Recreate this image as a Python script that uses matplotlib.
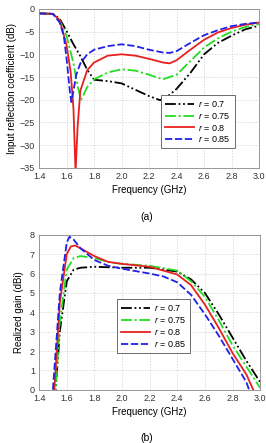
import matplotlib
matplotlib.use('Agg')
import matplotlib.pyplot as plt

plt.rcParams['font.family'] = ['Liberation Sans', 'DejaVu Sans']
plt.rcParams['mathtext.fontset'] = 'custom'
plt.rcParams['mathtext.it'] = 'Liberation Sans:italic'
plt.rcParams['mathtext.rm'] = 'Liberation Sans'

labels = ['$r$ = 0.7', '$r$ = 0.75', '$r$ = 0.8', '$r$ = 0.85']
colors = ['black', '#22dd22', '#e82020', '#2020e8']
styles = [(0, (6, 1.5, 1, 1.5, 1, 1.5)), (0, (6, 1.5, 1.2, 1.5)), '-', (0, (4, 1.5))]

# (a) input reflection coefficient, dB
s11_x = [
    [1.4, 1.5, 1.55, 1.6, 1.65, 1.7, 1.75, 1.8, 1.9, 2.0, 2.1, 2.2, 2.28, 2.35, 2.4, 2.5, 2.6, 2.7, 2.8, 2.9, 3.0],
    [1.4, 1.5, 1.55, 1.6, 1.65, 1.68, 1.705, 1.73, 1.75, 1.8, 1.9, 2.0, 2.1, 2.2, 2.3, 2.4, 2.5, 2.6, 2.7, 2.8, 2.9, 3.0],
    [1.4, 1.5, 1.55, 1.6, 1.63, 1.65, 1.665, 1.68, 1.7, 1.75, 1.8, 1.9, 2.0, 2.1, 2.2, 2.3, 2.35, 2.4, 2.5, 2.6, 2.7, 2.8, 2.9, 3.0],
    [1.4, 1.5, 1.55, 1.58, 1.6, 1.625, 1.635, 1.65, 1.67, 1.7, 1.75, 1.8, 1.9, 2.0, 2.1, 2.2, 2.3, 2.35, 2.4, 2.5, 2.6, 2.7, 2.8, 2.9, 3.0],
]
s11_y = [
    [-1, -1.1, -2.2, -4.9, -7.8, -10.4, -13.4, -15.6, -15.9, -16.4, -17.8, -19.2, -20.1, -18.9, -17.6, -14.1, -10, -7.5, -5.9, -4.5, -3.7],
    [-1, -1.1, -2.5, -6, -12, -17, -20, -18.5, -17.2, -15.5, -14, -13.3, -13.6, -14.5, -15.5, -14.5, -11.5, -8.5, -6.5, -5, -4, -3.3],
    [-1, -1.1, -2.5, -8, -14, -22, -36, -26, -18, -13.5, -11.8, -10.3, -10, -10.3, -11, -11.8, -12, -11.3, -9, -6.8, -5.2, -4.2, -3.5, -3],
    [-1, -1.1, -3, -6, -11, -18.5, -20.5, -18, -14.5, -12, -10, -9, -8.2, -7.8, -8.2, -9, -9.6, -9.7, -9.3, -7.5, -5.8, -4.7, -3.8, -3.3, -3],
]

# (b) realized gain, dBi
gain_x = [
    [1.51, 1.52, 1.55, 1.6, 1.65, 1.7, 1.8, 2.0, 2.2, 2.4, 2.5, 2.6, 2.7, 2.8, 2.9, 3.0],
    [1.51, 1.52, 1.55, 1.6, 1.65, 1.7, 1.8, 1.9, 2.0, 2.2, 2.4, 2.5, 2.6, 2.7, 2.8, 2.9, 3.0],
    [1.5, 1.51, 1.55, 1.6, 1.63, 1.66, 1.7, 1.8, 1.9, 2.0, 2.2, 2.4, 2.5, 2.6, 2.7, 2.8, 2.9, 2.95],
    [1.49, 1.5, 1.55, 1.6, 1.62, 1.65, 1.7, 1.8, 1.9, 2.0, 2.2, 2.3, 2.4, 2.5, 2.6, 2.7, 2.8, 2.9, 2.92],
]
gain_y = [
    [-0.5, 0, 3, 5.6, 6.2, 6.3, 6.35, 6.3, 6.3, 6.1, 5.7, 5.0, 3.9, 2.7, 1.5, 0.4],
    [-0.5, 0, 3.5, 6.2, 6.8, 6.9, 6.8, 6.6, 6.5, 6.4, 6.15, 5.6, 4.8, 3.6, 2.3, 1.2, 0.1],
    [-0.5, 0, 4.5, 7.0, 7.4, 7.45, 7.3, 6.9, 6.6, 6.5, 6.35, 5.95, 5.4, 4.4, 3.2, 1.9, 0.8, 0],
    [-0.5, 0, 5, 7.6, 7.9, 7.75, 7.3, 6.7, 6.4, 6.25, 6.0, 5.85, 5.55, 4.9, 3.9, 2.8, 1.6, 0.4, 0],
]

xticks = [1.4, 1.6, 1.8, 2.0, 2.2, 2.4, 2.6, 2.8, 3.0]
fs = 6.5


def style_axes(ax):
    ax.grid(True, color='#cccccc', linestyle=(0, (2, 2)), linewidth=0.5)
    ax.set_axisbelow(True)
    for sp in ax.spines.values():
        sp.set_color('#888888')
        sp.set_linewidth(0.6)
    ax.tick_params(length=0, labelsize=fs, pad=3, colors='#333333')
    ax.set_xlim(1.4, 3.0)
    ax.set_xticks(xticks)
    ax.set_xticklabels(['%.1f' % t for t in xticks])
    ax.set_xlabel('Frequency (GHz)', fontsize=fs + 0.5, labelpad=3)


def add_legend(ax, **kw):
    leg = ax.legend(fontsize=fs, handlelength=3.2, handletextpad=0.5, fancybox=False,
                    edgecolor='#555555', framealpha=1, borderpad=0.45, labelspacing=0.2, **kw)
    leg.get_frame().set_linewidth(0.6)


fig = plt.figure(figsize=(2.66, 4.43), dpi=100)
ax1 = fig.add_axes([0.147, 0.621, 0.827, 0.359])
ax2 = fig.add_axes([0.147, 0.120, 0.831, 0.350])

for i in range(4):
    ax1.plot(s11_x[i], s11_y[i], color=colors[i], linestyle=styles[i], linewidth=1.3, label=labels[i])
    ax2.plot(gain_x[i], gain_y[i], color=colors[i], linestyle=styles[i], linewidth=1.3, label=labels[i])

style_axes(ax1)
ax1.set_ylim(-35, 0)
ax1.set_yticks(range(-35, 1, 5))
ax1.set_ylabel('Input reflection coefficient (dB)', fontsize=fs + 0.5, labelpad=2)
add_legend(ax1, loc='lower right', bbox_to_anchor=(0.91, 0.094))

style_axes(ax2)
ax2.set_ylim(0, 8)
ax2.set_yticks(range(0, 9))
ax2.set_ylabel('Realized gain (dBi)', fontsize=fs + 0.5, labelpad=4)
add_legend(ax2, loc='upper left', bbox_to_anchor=(0.33, 0.613))

fig.text(0.553, 1 - 217 / 443, '(a)', ha='center', va='center', fontsize=fs + 1)
fig.text(0.553, 1 - 438 / 443, '(b)', ha='center', va='center', fontsize=fs + 1)

fig.savefig('out.png', dpi=100)
